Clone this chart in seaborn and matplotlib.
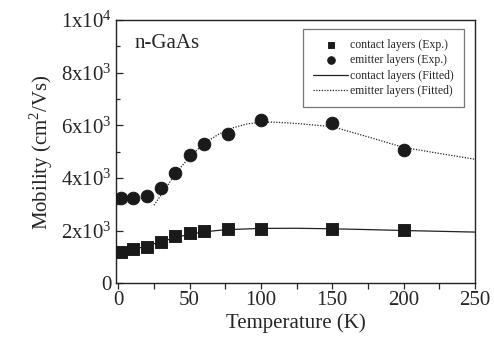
import numpy as np
import pandas as pd
import matplotlib
matplotlib.use("Agg")
import matplotlib.pyplot as plt
from matplotlib.ticker import MultipleLocator, FixedLocator
import seaborn as sns

# ─────────────────────────────────────────────
# DATA
# ─────────────────────────────────────────────
temp_exp = [2, 10, 20, 30, 40, 50, 60, 77, 100, 150, 200]
contact_exp = [1180, 1290, 1370, 1560, 1790, 1900, 1980, 2050, 2060, 2060, 2010]
emitter_exp = [3230, 3230, 3310, 3610, 4180, 4870, 5290, 5670, 6200, 6080, 5060]

temp_fit_contact = [0, 10, 20, 30, 40, 50, 60, 75, 100, 125, 150, 175, 200, 225, 250]
contact_fit = [1080, 1260, 1420, 1570, 1730, 1860, 1950, 2030, 2080, 2085, 2065, 2035, 2000, 1970, 1940]

temp_fit_emitter = [25, 30, 40, 50, 60, 70, 80, 90, 100, 110, 125, 150, 175, 200, 225, 250]
emitter_fit = [2960, 3350, 4150, 4800, 5300, 5650, 5900, 6050, 6120, 6120, 6070, 5950, 5560, 5160, 4930, 4710]

y_ticks = [0, 2000, 4000, 6000, 8000, 10000]
y_tick_labels = ["0", r"$\mathregular{2x10^3}$", r"$\mathregular{4x10^3}$",
                 r"$\mathregular{6x10^3}$", r"$\mathregular{8x10^3}$",
                 r"$\mathregular{1x10^4}$"]

# ─────────────────────────────────────────────
# STYLE
# ─────────────────────────────────────────────
sns.set_style("white")
plt.rcParams["font.family"] = ["Liberation Serif", "DejaVu Serif"]
plt.rcParams["mathtext.fontset"] = "custom"
plt.rcParams["mathtext.rm"] = "Liberation Serif"

fig = plt.figure(figsize=(4.94, 3.53), dpi=100)
ax = fig.add_axes([0.235, 0.198, 0.7265, 0.745])

df_exp = pd.DataFrame({"T": temp_exp, "contact": contact_exp, "emitter": emitter_exp})

sns.lineplot(x=temp_fit_contact, y=contact_fit, ax=ax, color="#222222",
             linewidth=0.9, label="contact layers (Fitted)", zorder=2)
sns.lineplot(x=temp_fit_emitter, y=emitter_fit, ax=ax, color="#222222",
             linewidth=0.9, linestyle=(0, (1, 1.2)), label="emitter layers (Fitted)", zorder=2)
sns.scatterplot(data=df_exp, x="T", y="contact", ax=ax, marker="s", s=68,
                color="#1a1a1a", edgecolor="#1a1a1a", label="contact layers (Exp.)", zorder=3)
sns.scatterplot(data=df_exp, x="T", y="emitter", ax=ax, marker="o", s=82,
                color="#1a1a1a", edgecolor="#1a1a1a", label="emitter layers (Exp.)", zorder=3)

ax.set_xlim(-1.5, 250)
ax.set_ylim(0, 10000)

ax.xaxis.set_major_locator(MultipleLocator(50))
ax.xaxis.set_minor_locator(MultipleLocator(25))
ax.yaxis.set_major_locator(FixedLocator(y_ticks))
ax.yaxis.set_minor_locator(MultipleLocator(1000))
ax.set_yticklabels(y_tick_labels)

ax.tick_params(axis="x", which="both", direction="out", length=4, width=0.9,
               labelsize=15, pad=2, bottom=True, top=False)
ax.tick_params(axis="y", which="major", direction="in", length=5, width=0.9,
               labelsize=15, pad=3, left=True, right=False)
ax.tick_params(axis="y", which="minor", direction="in", length=3, width=0.9,
               left=True, right=False)

for sp in ax.spines.values():
    sp.set_color("#222222")
    sp.set_linewidth(1.0)

ax.set_xlabel("Temperature (K)", fontsize=15, labelpad=2)
ax.set_ylabel(r"Mobility (cm$^\mathregular{2}$/Vs)", fontsize=15, labelpad=4)

ax.text(0.05, 0.91, "n-GaAs", transform=ax.transAxes, fontsize=15,
        ha="left", va="center")

# legend order: exp first, then fitted
handles, labels = ax.get_legend_handles_labels()
order = [2, 3, 0, 1]
leg = ax.legend([handles[i] for i in order], [labels[i] for i in order],
                loc="upper right", bbox_to_anchor=(0.985, 0.99), fontsize=8.5,
                frameon=True, fancybox=False, handlelength=3.0, handletextpad=0.15,
                borderpad=0.85, labelspacing=0.3, markerscale=0.6)
leg.get_frame().set_edgecolor("#555555")
leg.get_frame().set_linewidth(0.9)

fig.savefig("out.png", dpi=100)
